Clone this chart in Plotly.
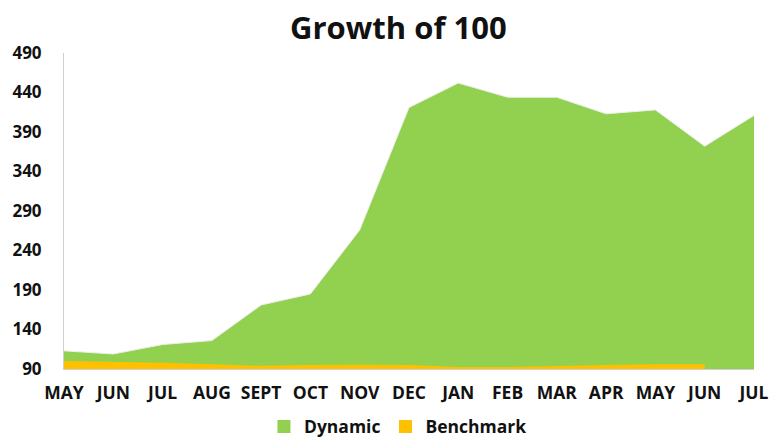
import plotly.graph_objects as go

months = ["MAY", "JUN", "JUL", "AUG", "SEPT", "OCT", "NOV", "DEC",
          "JAN", "FEB", "MAR", "APR", "MAY", "JUN", "JUL"]
dynamic = [113, 109, 121, 126, 171, 185, 266, 421, 452, 434, 434, 413, 418, 372, 411]
benchmark = [100, 99, 98, 96, 94, 95, 95.5, 95, 92.5, 92.5, 94, 95, 96, 96]

green = "#92D050"
gold = "#FFC000"
xs = list(range(len(months)))

fig = go.Figure()
fig.add_trace(go.Scatter(x=xs, y=dynamic, mode="lines", showlegend=False,
                         fill="tozeroy", fillcolor=green,
                         line=dict(color="#eeeeee", width=1)))
fig.add_trace(go.Scatter(x=xs[:len(benchmark)], y=benchmark, mode="lines", showlegend=False,
                         fill="tozeroy", fillcolor=gold,
                         line=dict(color=gold, width=0)))
# legend entries as square markers
fig.add_trace(go.Scatter(x=[None], y=[None], mode="markers", name="<b>Dynamic</b>",
                         marker=dict(symbol="square", size=13, color=green)))
fig.add_trace(go.Scatter(x=[None], y=[None], mode="markers", name="<b>Benchmark</b>",
                         marker=dict(symbol="square", size=13, color=gold)))

fig.update_layout(
    width=772, height=437,
    paper_bgcolor="white", plot_bgcolor="white",
    margin=dict(l=64, r=18, t=53, b=68, autoexpand=False),
    font=dict(family="Open Sans", color="#111111"),
    title=dict(text="<b>Growth of 100</b>", x=0.516, xanchor="center", y=0.936,
               yanchor="middle", font=dict(size=31, color="#111111")),
    xaxis=dict(range=[0, 14], tickvals=xs, ticktext=["<b>%s</b>" % m for m in months],
               showgrid=False, showline=True, linecolor="#d0d0d0", ticks="",
               tickfont=dict(size=17.5), zeroline=False, ticklabelstandoff=8),
    yaxis=dict(range=[90, 490], tickvals=list(range(90, 491, 50)),
               ticktext=["<b>%d</b>" % v for v in range(90, 491, 50)],
               showgrid=False, showline=True, linecolor="#d0d0d0", ticks="",
               tickfont=dict(size=17), zeroline=False, ticklabelstandoff=18),
    legend=dict(orientation="h", x=0.484, xanchor="center", y=-0.125, yanchor="top",
                font=dict(size=17.5), traceorder="normal", itemwidth=30),
)

fig.write_html("out.html", config={"displayModeBar": False},
               post_script="document.body.style.margin='0';")
